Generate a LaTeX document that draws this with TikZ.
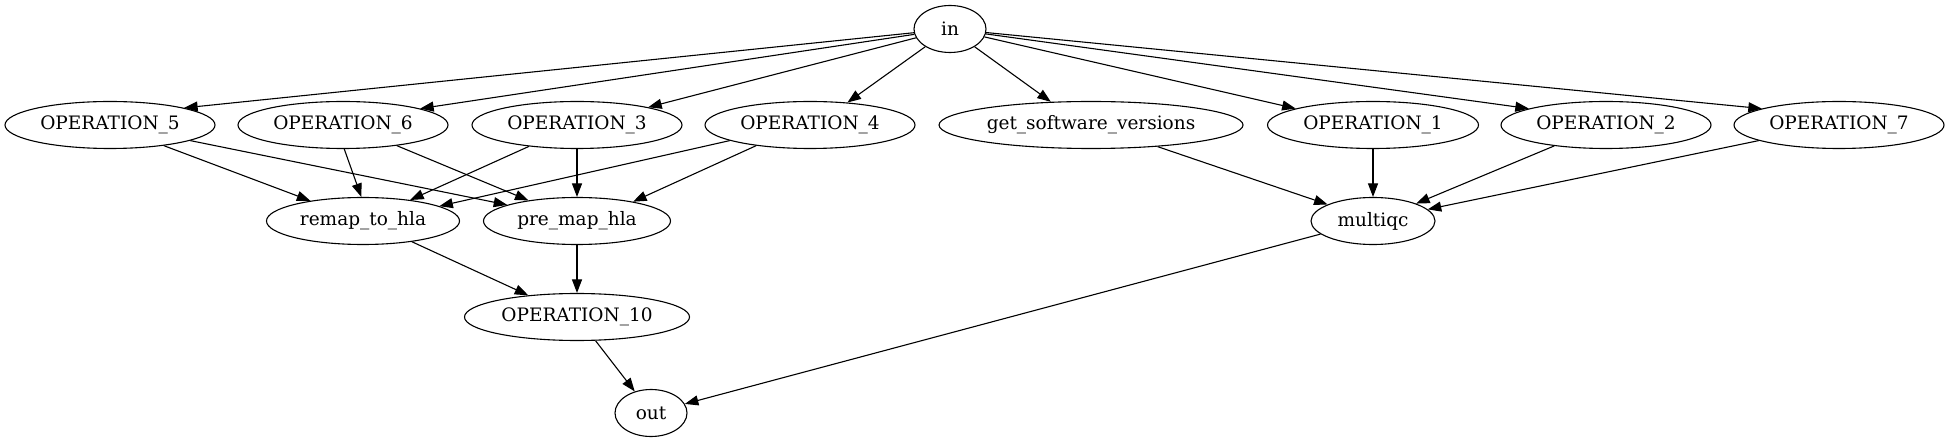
\documentclass[tikz,border=0pt]{standalone}
\usepackage{fontspec}
\setmainfont{DejaVu Serif}
\usetikzlibrary{arrows.meta,shapes.geometric}
\begin{document}
\begin{tikzpicture}[x=1pt,y=-1pt,
  nd/.style={ellipse,draw,line width=1.1pt,inner sep=0pt,minimum height=47pt,
    font=\fontsize{18.5}{22}\selectfont},
  ed/.style={line width=1.1pt,-{Triangle[length=13.5pt,width=10pt]}}]
\useasboundingbox (0,0) rectangle (1950,443);
% rank 0
\node[nd,minimum width=72pt] (in) at (950,29) {in};
% rank 1
\node[nd,minimum width=210pt] (o5) at (110,125) {OPERATION\_5};
\node[nd,minimum width=210pt] (o6) at (343,125) {OPERATION\_6};
\node[nd,minimum width=210pt] (o3) at (577,125) {OPERATION\_3};
\node[nd,minimum width=210pt] (o4) at (810,125) {OPERATION\_4};
\node[nd,minimum width=304pt] (gsv) at (1091,125) {get\_software\_versions};
\node[nd,minimum width=211pt] (o1) at (1373,125) {OPERATION\_1};
\node[nd,minimum width=210pt] (o2) at (1606,125) {OPERATION\_2};
\node[nd,minimum width=210pt] (o7) at (1839,125) {OPERATION\_7};
% rank 2
\node[nd,minimum width=193pt] (remap) at (363,221) {remap\_to\_hla};
\node[nd,minimum width=187pt] (pre) at (577,221) {pre\_map\_hla};
\node[nd,minimum width=124pt] (mq) at (1373,221) {multiqc};
% rank 3
\node[nd,minimum width=225pt] (o10) at (577,317) {OPERATION\_10};
% rank 4
\node[nd,minimum width=72pt] (out) at (651,413) {out};
% edges from in
\draw[ed] (in) -- (o5.13);
\draw[ed] (in) -- (o6.12);
\draw[ed] (in) -- (o3.14);
\draw[ed] (in) -- (o4.31);
\draw[ed] (in) -- (gsv.150);
\draw[ed] (in) -- (o1.168);
\draw[ed] (in) -- (o2.168);
\draw[ed] (in) -- (o7.168);
% rank 1 -> rank 2
\draw[ed] (o5.-21.6) -- (remap.159.6);
\draw[ed] (o5.-11.4) -- (pre.167.4);
\draw[ed] (o6.-87) -- (remap.94);
\draw[ed] (o6.-21.4) -- (pre.157.8);
\draw[ed] (o3.204) -- (remap.24.8);
\draw[ed] (o3.south) -- (pre.north);
\draw[ed] (o4.191.7) -- (remap.11.5);
\draw[ed] (o4.201.9) -- (pre.19);
\draw[ed] (gsv.-18.4) -- (mq.160.2);
\draw[ed] (o1.south) -- (mq.north);
\draw[ed] (o2.202) -- (mq.22.4);
\draw[ed] (o7.191.7) -- (mq.12);
% rank 2 -> rank 3
\draw[ed] (remap.-23.6) -- (o10.156.6);
\draw[ed] (pre.south) -- (o10.north);
% to out
\draw[ed] (o10.-52.2) -- (out.127.3);
\draw[ed] (mq.194.7) -- (out.15.9);
\end{tikzpicture}
\end{document}
